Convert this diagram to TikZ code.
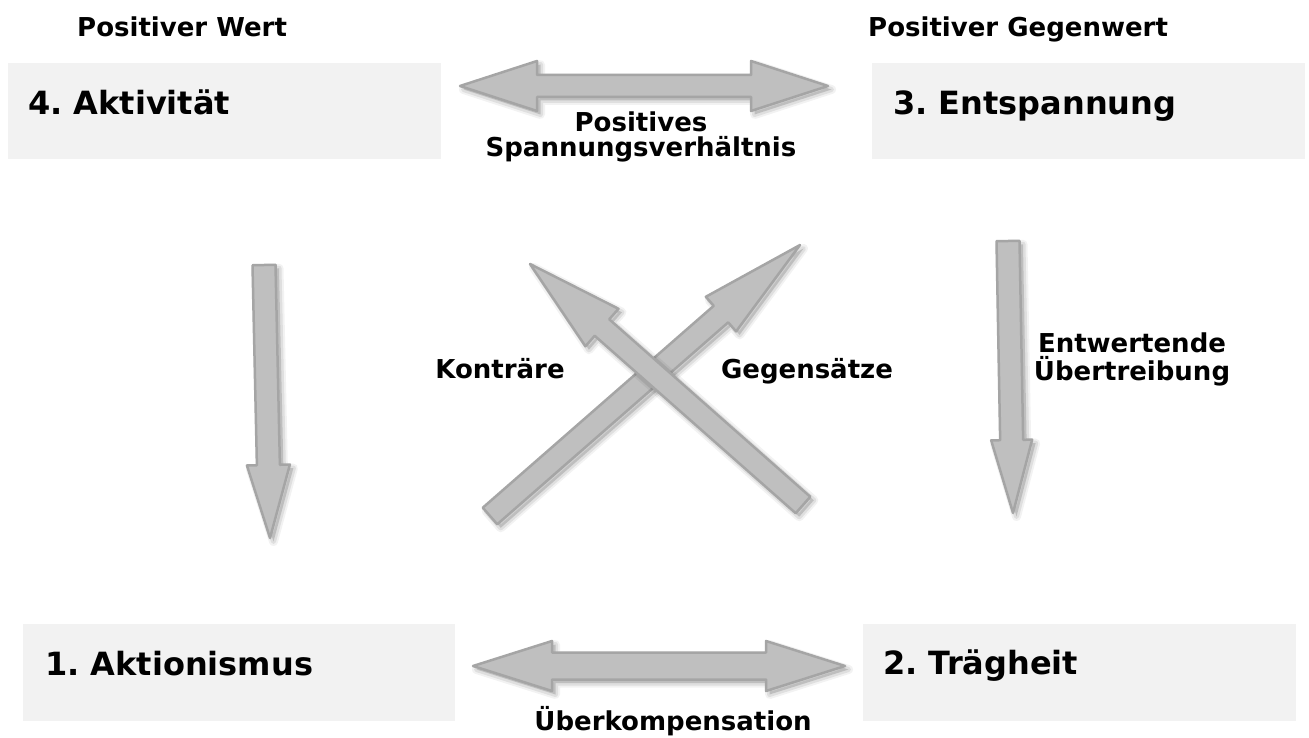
\documentclass[tikz,border=0pt]{standalone}
\usepackage{fontspec}
\setmainfont{DejaVu Sans}
\usetikzlibrary{calc}
\definecolor{boxfill}{HTML}{F2F2F2}
\definecolor{arrfill}{HTML}{BFBFBF}
\definecolor{arrline}{HTML}{A5A5A5}
\frenchspacing

\newcommand\arrowdraw{%
  \begin{scope}[transform canvas={xshift=3.5pt,yshift=-3.5pt}]
    \fill[black,opacity=.14] \curpath;
    \draw[black,opacity=.05,line width=9pt,line join=round] \curpath;
    \draw[black,opacity=.08,line width=5pt,line join=round] \curpath;
  \end{scope}
  \filldraw[arrowbody] \curpath;
}
% single block arrow: name, tail, tip, shaft half width, head half width, head length
\newcommand\sarrow[6]{%
  \coordinate (#1-t) at #2;
  \coordinate (#1-h) at #3;
  \coordinate (#1-b) at ($(#1-h)!#6pt!(#1-t)$);
  \def\curpath{($(#1-t)!#4pt!90:(#1-h)$) -- ($(#1-b)!#4pt!90:(#1-h)$) -- ($(#1-b)!#5pt!90:(#1-h)$) -- (#1-h) -- ($(#1-b)!#5pt!-90:(#1-h)$) -- ($(#1-b)!#4pt!-90:(#1-h)$) -- ($(#1-t)!#4pt!-90:(#1-h)$) -- cycle}%
  \arrowdraw
}
% double block arrow
\newcommand\darrow[6]{%
  \coordinate (#1-a) at #2;
  \coordinate (#1-c) at #3;
  \coordinate (#1-ba) at ($(#1-a)!#6pt!(#1-c)$);
  \coordinate (#1-bc) at ($(#1-c)!#6pt!(#1-a)$);
  \def\curpath{(#1-a) -- ($(#1-ba)!#5pt!90:(#1-c)$) -- ($(#1-ba)!#4pt!90:(#1-c)$) -- ($(#1-bc)!#4pt!-90:(#1-a)$) -- ($(#1-bc)!#5pt!-90:(#1-a)$) -- (#1-c) -- ($(#1-bc)!#5pt!90:(#1-a)$) -- ($(#1-bc)!#4pt!90:(#1-a)$) -- ($(#1-ba)!#4pt!-90:(#1-c)$) -- ($(#1-ba)!#5pt!-90:(#1-c)$) -- cycle}%
  \arrowdraw
}

\begin{document}
\begin{tikzpicture}[x=1pt,y=-1pt,
  box/.style={fill=boxfill, draw=none, inner sep=0pt, anchor=north west},
  boxtext/.style={font=\fontsize{32}{38}\selectfont\bfseries, anchor=base west, inner sep=0pt},
  lab/.style={font=\fontsize{26}{25}\selectfont\bfseries, inner sep=0pt, align=center},
  arrowbody/.style={fill=arrfill, draw=arrline, line width=2.5pt, line join=round}]
\useasboundingbox (0,0) rectangle (1309,738);
\fill[white] (0,0) rectangle (1309,738);

% boxes
\node[box, minimum width=433pt, minimum height=96pt] (b4) at (8,63) {};
\node[box, minimum width=433pt, minimum height=96pt] (b3) at (872,63) {};
\node[box, minimum width=432pt, minimum height=97pt] (b1) at (23,624) {};
\node[box, minimum width=433pt, minimum height=97pt] (b2) at (863,624) {};

\node[boxtext] (t4) at (28,115) {4. Aktivität};
\node[boxtext] (t3) at (893,115) {3. Entspannung};
\node[boxtext] (t1) at (45,675) {1. Aktionismus};
\node[boxtext] (t2) at (883,674) {2. Trägheit};

% headers
\node[lab, anchor=base west] (h1) at (77,37) {Positiver Wert};
\node[lab, anchor=base west] (h2) at (868,37) {Positiver Gegenwert};

% arrows
\darrow{ta}{(460,86)}{(828,86)}{11}{25}{77}
\darrow{ba}{(473,666)}{(845,666)}{13.5}{25}{79}
\sarrow{la}{(264,265)}{(270,538)}{11.5}{21.5}{73}
\sarrow{ra}{(1008,241)}{(1013,513)}{11.5}{20.5}{73}
\sarrow{da}{(490,516)}{(800,245)}{11}{23}{105}
\sarrow{db}{(803,505)}{(530,264)}{11}{25}{96}

% labels
\node[lab] (l1) at (641,137) {Positives\\Spannungsverhältnis};
\node[lab, font=\fontsize{26}{28}\selectfont\bfseries] (l2) at (1132,359) {Entwertende\\Übertreibung};
\node[lab, anchor=base] (l3) at (500,378) {Konträre};
\node[lab, anchor=base] (l4) at (807,378) {Gegensätze};
\node[lab, anchor=base] (l5) at (673,730) {Überkompensation};
\end{tikzpicture}
\end{document}
